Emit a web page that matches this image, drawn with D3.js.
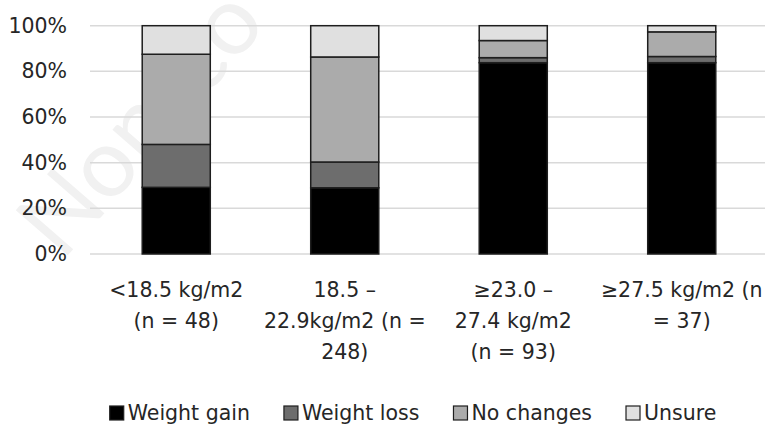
<!DOCTYPE html>
<html>
<head>
<meta charset="utf-8">
<script src="https://cdn.jsdelivr.net/npm/d3@7"></script>
<style>
  html, body { margin: 0; padding: 0; background: #fff; }
  svg { display: block; }
  text { font-family: "DejaVu Sans", sans-serif; fill: #262626; }
</style>
</head>
<body>
<script>
// Categorii (etichete pe mai multe rânduri, ca în grafic)
const categories = ["c1", "c2", "c3", "c4"];
const categoryLines = [
  ["<18.5 kg/m2", "(n = 48)"],
  ["18.5 \u2013", "22.9kg/m2 (n =", "248)"],
  ["\u226523.0 \u2013", "27.4 kg/m2", "(n = 93)"],
  ["\u226527.5 kg/m2  (n", "= 37)"]
];

// Valori în procente
const weightGain = [29.2, 29.0, 83.8, 83.8];
const weightLoss = [18.8, 11.3, 2.2, 2.7];
const noChanges = [39.5, 46.0, 7.5, 10.8];
const unsure = [12.5, 13.7, 6.5, 2.7];

const seriesNames = ["Weight gain", "Weight loss", "No changes", "Unsure"];
const seriesColors = ["#000000", "#6d6d6d", "#ababab", "#e0e0e0"];
const yTicks = [0, 20, 40, 60, 80, 100];

const width = 765, height = 426;
const fontSize = 20.5;

const svg = d3.select("body")
  .append("svg")
  .attr("width", width)
  .attr("height", height);

// Filigran discret
svg.append("text")
  .attr("transform", "translate(62,262) rotate(-49)")
  .text("Non-co")
  .style("font-family", "Lato, sans-serif")
  .style("font-size", "96px")
  .style("fill", "#f1f1f1");

const x = d3.scaleBand()
  .domain(categories)
  .range([92, 766])
  .paddingInner(0.596)
  .paddingOuter(0.298);

const y = d3.scaleLinear()
  .domain([0, 100])
  .range([254, 25.7]);

// Grila orizontală
svg.append("g")
  .selectAll("line")
  .data(yTicks)
  .join("line")
  .attr("x1", 90)
  .attr("x2", width)
  .attr("y1", d => y(d))
  .attr("y2", d => y(d))
  .attr("stroke", "#d9d9d9")
  .attr("stroke-width", 1.5);

// Axa Y (doar etichete)
const yAxis = svg.append("g")
  .attr("transform", "translate(67,0)")
  .call(d3.axisLeft(y).tickValues(yTicks).tickSize(0).tickPadding(0).tickFormat(d => d + "%"));
yAxis.select(".domain").remove();
yAxis.selectAll("text")
  .style("font-size", fontSize + "px")
  .attr("font-family", null)
  .attr("fill", "#262626");

// Date pentru stivuire
const rows = categories.map((c, i) => ({
  cat: c,
  "Weight gain": weightGain[i],
  "Weight loss": weightLoss[i],
  "No changes": noChanges[i],
  "Unsure": unsure[i]
}));
const stacked = d3.stack().keys(seriesNames)(rows);

const color = d3.scaleOrdinal().domain(seriesNames).range(seriesColors);

svg.append("g")
  .selectAll("g")
  .data(stacked)
  .join("g")
  .attr("fill", d => color(d.key))
  .selectAll("rect")
  .data(d => d)
  .join("rect")
  .attr("x", d => x(d.data.cat))
  .attr("width", x.bandwidth())
  .attr("y", d => y(d[1]))
  .attr("height", d => y(d[0]) - y(d[1]))
  .attr("stroke", "#1e1e1e")
  .attr("stroke-width", 1.5);

// Etichete categorii
const xLabels = svg.append("g")
  .selectAll("text")
  .data(categories)
  .join("text")
  .attr("text-anchor", "middle")
  .style("font-size", fontSize + "px");
xLabels.selectAll("tspan")
  .data((d, i) => categoryLines[i].map(t => ({ t, c: d })))
  .join("tspan")
  .attr("x", d => x(d.c) + x.bandwidth() / 2)
  .attr("y", (d, j) => 297 + j * 31)
  .text(d => d.t);

// Legenda
const legend = svg.append("g");
let lx = 0;
seriesNames.forEach((name, i) => {
  const item = legend.append("g").attr("transform", `translate(${lx},0)`);
  item.append("rect")
    .attr("x", 0)
    .attr("y", 406)
    .attr("width", 14)
    .attr("height", 14)
    .attr("fill", seriesColors[i])
    .attr("stroke", "#1e1e1e")
    .attr("stroke-width", 1.2);
  const t = item.append("text")
    .attr("x", 18)
    .attr("y", 420)
    .style("font-size", fontSize + "px")
    .text(name);
  lx += 18 + t.node().getComputedTextLength() + 34;
});
const legendWidth = lx - 34;
legend.attr("transform", `translate(${413 - legendWidth / 2},0)`);
</script>
</body>
</html>
